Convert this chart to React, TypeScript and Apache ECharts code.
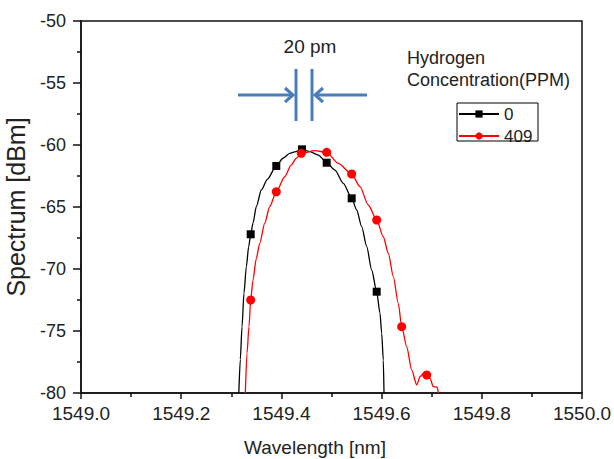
import React, { useEffect, useRef } from "react";
import * as echarts from "echarts";

// Wavelength [nm], Spectrum [dBm]
const curve0: [number, number][] = [
  [1549.3150, -80.0], [1549.3180, -77.3], [1549.3214, -74.65], [1549.3253, -71.96],
  [1549.3300, -69.81], [1549.3347, -68.2], [1549.3433, -66.31], [1549.3499, -64.98],
  [1549.3599, -63.63], [1549.3719, -62.77], [1549.4032, -61.07], [1549.4166, -60.67],
  [1549.4265, -60.56], [1549.4571, -60.54], [1549.4737, -60.81], [1549.5070, -62.02],
  [1549.5236, -63.09], [1549.5503, -65.24], [1549.5603, -66.59], [1549.5703, -68.2],
  [1549.5802, -70.08], [1549.5968, -73.57], [1549.6002, -75.19], [1549.6034, -77.34],
  [1549.6048, -80.0],
];
const markers0: [number, number][] = [
  [1549.3387, -67.2], [1549.3898, -61.69], [1549.4411, -60.35],
  [1549.4904, -61.43], [1549.5403, -64.3], [1549.5902, -71.83],
];
const curve409: [number, number][] = [
  [1549.3280, -80.0], [1549.3313, -76.8], [1549.3353, -74.65], [1549.3433, -70.89],
  [1549.3499, -69.14], [1549.3567, -67.93], [1549.3667, -66.31], [1549.3766, -64.98],
  [1549.4066, -62.56], [1549.4198, -61.61], [1549.4297, -61.07], [1549.4665, -60.46],
  [1549.5136, -61.48], [1549.5569, -63.36], [1549.5734, -64.84], [1549.6034, -67.4],
  [1549.6134, -68.73], [1549.6234, -70.62], [1549.6333, -72.77], [1549.6501, -76.27],
  [1549.6601, -78.15], [1549.6701, -79.35], [1549.6766, -78.69], [1549.6832, -78.41],
  [1549.6966, -78.81], [1549.7032, -79.49], [1549.7112, -79.54], [1549.7132, -80.0],
];
const markers409: [number, number][] = [
  [1549.3387, -72.5], [1549.3898, -63.77], [1549.4397, -60.67], [1549.4904, -60.59],
  [1549.5403, -62.34], [1549.5902, -66.05], [1549.6401, -74.65], [1549.6901, -78.55],
];

const seriesNames = ["0", "409"];
const seriesColors = ["#000000", "#ff0000"];
const legendTitle = ["Hydrogen", "Concentration(PPM)"];
const annotationText = "20 pm";
const xAxisTitle = "Wavelength [nm]";
const yAxisTitle = "Spectrum [dBm]";

const FONT = "'Liberation Sans', Arial, sans-serif";

function buildData(curve: [number, number][], markers: [number, number][]) {
  const pts: any[] = curve.map((p) => ({ value: p, symbol: "none" }));
  markers.forEach((m) => pts.push({ value: m }));
  pts.sort((a, b) => a.value[0] - b.value[0]);
  return pts;
}

export default function App() {
  const ref = useRef<HTMLDivElement>(null);
  useEffect(() => {
    document.body.style.margin = "0";
    const chart = echarts.init(ref.current!, null, { renderer: "svg" });
    const blue = "#4a7ebb";
    chart.setOption({
      animation: false,
      backgroundColor: "#ffffff",
      textStyle: { fontFamily: FONT },
      grid: {
        left: 81, right: 32, top: 21, bottom: 66,
        containLabel: false, outerBoundsMode: "none",
        show: true, borderColor: "#111", borderWidth: 1.5,
      },
      legend: {
        data: seriesNames,
        orient: "vertical",
        left: 458, top: 105,
        padding: 0,
        itemWidth: 40, itemHeight: 9, itemGap: 4,
        textStyle: { fontFamily: FONT, fontSize: 17, color: "#222", lineHeight: 18 },
      },
      xAxis: {
        type: "value", min: 1549.0, max: 1550.0, interval: 0.2,
        name: xAxisTitle, nameLocation: "middle", nameGap: 45,
        nameTextStyle: { fontFamily: FONT, fontSize: 19, color: "#222", padding: [0, 33, 0, 0] },
        axisLine: { lineStyle: { color: "#111", width: 1.5 } },
        axisTick: { show: true, inside: false, length: 6, lineStyle: { color: "#111", width: 1.5 } },
        minorTick: { show: true, splitNumber: 2, length: 4, lineStyle: { color: "#111", width: 1.5 } },
        splitLine: { show: false },
        axisLabel: { fontFamily: FONT, fontSize: 19, color: "#222", margin: 11, formatter: (v: number) => v.toFixed(1) },
      },
      yAxis: {
        type: "value", min: -80, max: -50, interval: 5,
        name: yAxisTitle, nameLocation: "middle", nameGap: 53,
        nameTextStyle: { fontFamily: FONT, fontSize: 25, color: "#222" },
        axisLine: { show: true, lineStyle: { color: "#111", width: 1.5 } },
        axisTick: { show: true, inside: false, length: 8, lineStyle: { color: "#111", width: 1.5 } },
        minorTick: { show: true, splitNumber: 2, length: 4, lineStyle: { color: "#111", width: 1.5 } },
        splitLine: { show: false },
        axisLabel: { fontFamily: FONT, fontSize: 18, color: "#222", margin: 15 },
      },
      series: [
        {
          name: seriesNames[0], type: "line", data: buildData(curve0, markers0),
          symbol: "rect", symbolSize: 8, showSymbol: true, showAllSymbol: true,
          smooth: 0.25, smoothMonotone: "x",
          lineStyle: { color: seriesColors[0], width: 1.3 },
          itemStyle: { color: seriesColors[0] },
          z: 3,
        },
        {
          name: seriesNames[1], type: "line", data: buildData(curve409, markers409),
          symbol: "circle", symbolSize: 9, showSymbol: true, showAllSymbol: true,
          smooth: 0.25, smoothMonotone: "x",
          lineStyle: { color: seriesColors[1], width: 1.3 },
          itemStyle: { color: seriesColors[1] },
          z: 4,
        },
      ],
      graphic: [
        { type: "text", x: 310, y: 46, style: { text: annotationText, font: `19px ${FONT}`, fill: "#222", align: "center", verticalAlign: "middle" } },
        { type: "line", shape: { x1: 296, y1: 69, x2: 296, y2: 121 }, style: { stroke: blue, lineWidth: 3 } },
        { type: "line", shape: { x1: 312, y1: 69, x2: 312, y2: 121 }, style: { stroke: blue, lineWidth: 3 } },
        { type: "line", shape: { x1: 238, y1: 95, x2: 293, y2: 95 }, style: { stroke: blue, lineWidth: 3 } },
        { type: "polyline", shape: { points: [[285, 88], [293, 95], [285, 102]] }, style: { stroke: blue, lineWidth: 3, fill: "none" } },
        { type: "line", shape: { x1: 315, y1: 95, x2: 367, y2: 95 }, style: { stroke: blue, lineWidth: 3 } },
        { type: "polyline", shape: { points: [[323, 88], [315, 95], [323, 102]] }, style: { stroke: blue, lineWidth: 3, fill: "none" } },
        { type: "text", x: 407, y: 58, style: { text: legendTitle[0], font: `18px ${FONT}`, fill: "#222", align: "left", verticalAlign: "middle" } },
        { type: "text", x: 407, y: 80, style: { text: legendTitle[1], font: `18px ${FONT}`, fill: "#222", align: "left", verticalAlign: "middle" } },
        { type: "rect", shape: { x: 457, y: 103, width: 81, height: 38 }, style: { stroke: "#000", lineWidth: 1, fill: "none" }, z: 10 },
      ],
    });
    return () => chart.dispose();
  }, []);
  return <div ref={ref} style={{ width: 614, height: 459 }} />;
}
